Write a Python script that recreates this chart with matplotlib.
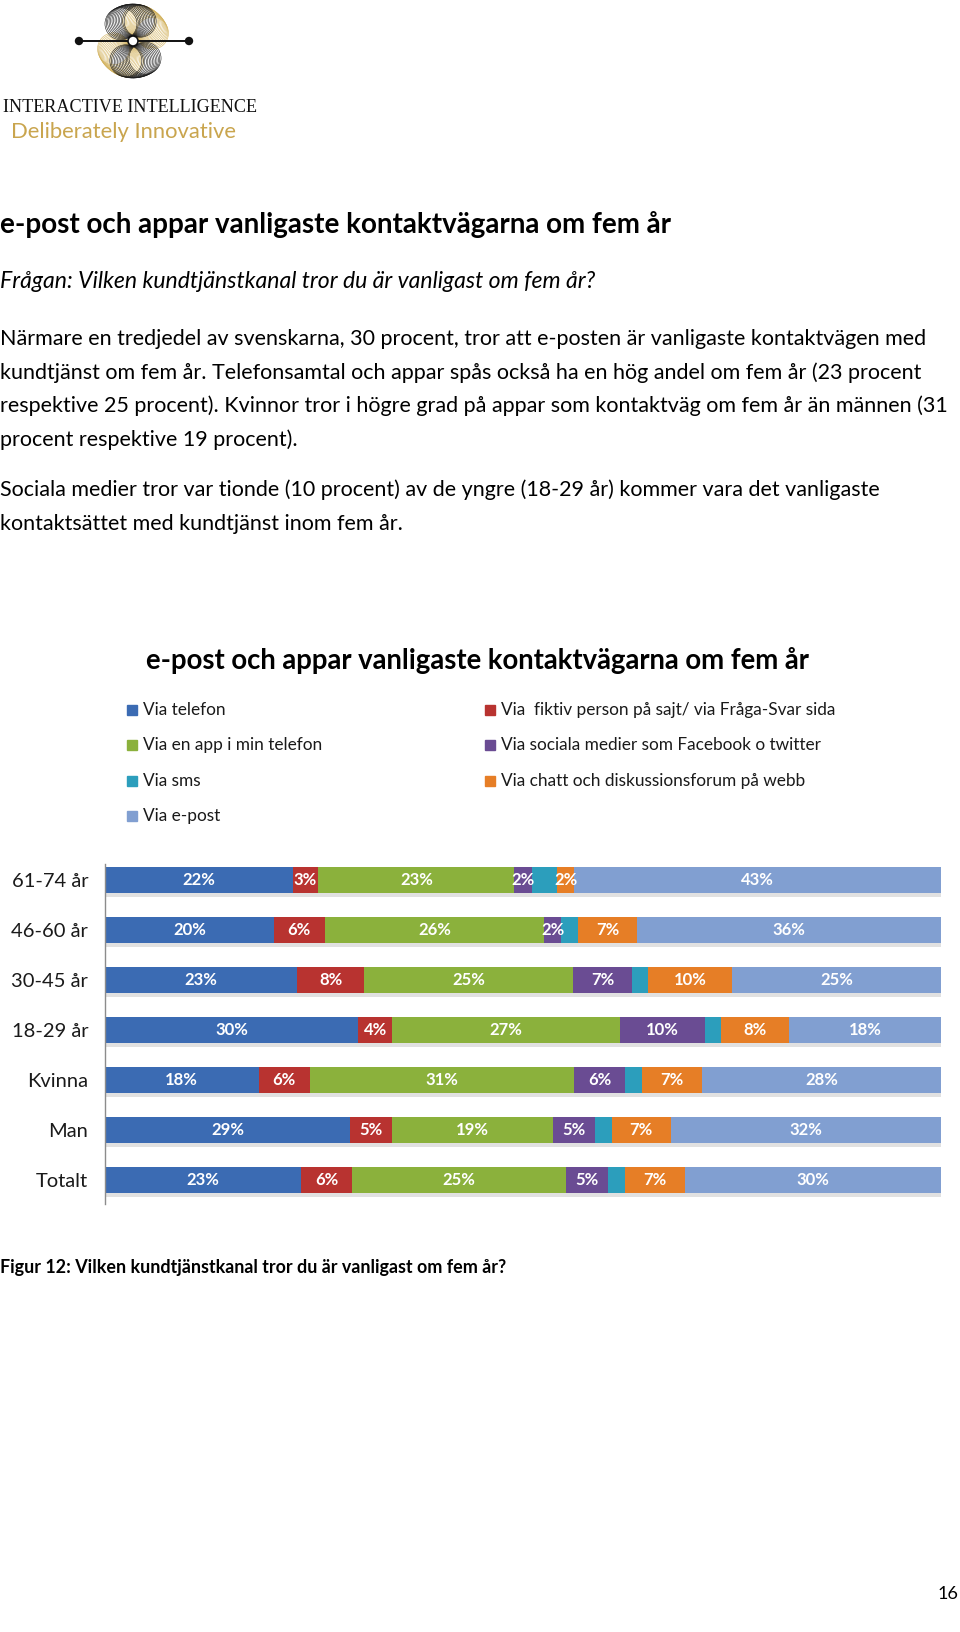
import numpy as np
import matplotlib.pyplot as plt
from matplotlib.patches import Circle, Rectangle

# chart data (percent per group)
groups = ['61-74 år', '46-60 år', '30-45 år', '18-29 år', 'Kvinna', 'Man', 'Totalt']
series = ['Via telefon', 'Via  fiktiv person på sajt/ via Fråga-Svar sida',
          'Via en app i min telefon', 'Via sociala medier som Facebook o twitter',
          'Via sms', 'Via chatt och diskussionsforum på webb', 'Via e-post']
telefon = [22, 20, 23, 30, 18, 29, 23]
fiktiv = [3, 6, 8, 4, 6, 5, 6]
app = [23, 26, 25, 27, 31, 19, 25]
sociala = [2, 2, 7, 10, 6, 5, 5]
sms = [3, 2, 2, 2, 2, 2, 2]
chatt = [2, 7, 10, 8, 7, 7, 7]
epost = [43, 36, 25, 18, 28, 32, 30]
show_label = [True, True, True, True, False, True, True]

colors = ['#3B6BB3', '#B83330', '#8BB13C', '#6A4C93', '#2C9EBC', '#E67E26', '#819FD1']

title = 'e-post och appar vanligaste kontaktvägarna om fem år'
question = 'Frågan: Vilken kundtjänstkanal tror du är vanligast om fem år?'
para1 = ['Närmare en tredjedel av svenskarna, 30 procent, tror att e-posten är vanligaste kontaktvägen med',
         'kundtjänst om fem år. Telefonsamtal och appar spås också ha en hög andel om fem år (23 procent',
         'respektive 25 procent). Kvinnor tror i högre grad på appar som kontaktväg om fem år än männen (31',
         'procent respektive 19 procent).']
para2 = ['Sociala medier tror var tionde (10 procent) av de yngre (18-29 år) kommer vara det vanligaste',
         'kontaktsättet med kundtjänst inom fem år.']
caption = 'Figur 12: Vilken kundtjänstkanal tror du är vanligast om fem år?'

W, H = 960, 1632
plt.rcParams['font.family'] = ['Lato', 'DejaVu Sans']
fig = plt.figure(figsize=(W / 100, H / 100), dpi=100)
fig.patch.set_facecolor('white')


def X(px):
    return px / W


def Y(px):
    return 1 - px / H


def fit(t, width):
    r = fig.canvas.get_renderer()
    w = t.get_window_extent(r).width
    t.set_fontsize(t.get_fontsize() * width / w)


# ---- logo
lg = fig.add_axes([0, Y(150), X(270), 150 / H])
lg.set_xlim(0, 270)
lg.set_ylim(150, 0)
lg.set_aspect('equal')
lg.axis('off')
cx, cy = 133, 41
for a0, a1, col in [(22, 75, '#D4B461'), (202, 255, '#D4B461'),
                    (70, 125, '#1a1a1a'), (250, 305, '#1a1a1a')]:
    for t in np.radians(np.linspace(a0, a1, 14)):
        lg.add_patch(Circle((cx + 21 * np.cos(t), cy - 21 * np.sin(t)), 16,
                            fill=False, lw=0.4, ec=col))
lg.plot([79, 189], [cy, cy], color='#111111', lw=1.4)
lg.add_patch(Circle((79, cy), 3.5, color='#111111'))
lg.add_patch(Circle((189, cy), 3.5, color='#111111'))
lg.add_patch(Circle((cx, cy), 5, fc='white', ec='#111111', lw=1.2, zorder=5))

t = fig.text(X(3), Y(108), 'INTERACTIVE INTELLIGENCE', family='Liberation Serif',
             fontsize=14, va='center', color='#111111')
fit(t, 257)
t = fig.text(X(11), Y(132), 'Deliberately Innovative', fontsize=14, va='center',
             color='#C9A54E')
fit(t, 226)

# ---- text block
t = fig.text(X(0), Y(224), title, fontsize=17, fontweight='bold', va='center')
fit(t, 672)
t = fig.text(X(0), Y(282), question, fontsize=13, style='italic', va='center')
fit(t, 595)

body = []
for i, line in enumerate(para1):
    body.append(fig.text(X(0), Y(339 + 33.5 * i), line, fontsize=14, va='center'))
for i, line in enumerate(para2):
    body.append(fig.text(X(0), Y(490 + 34 * i), line, fontsize=14, va='center'))
sizes = []
for b, target in zip(body[:3], [955, 953, 950]):
    fit(b, target)
    sizes.append(b.get_fontsize())
for b in body:
    b.set_fontsize(min(sizes))

# ---- chart title and legend
t = fig.text(X(146), Y(661), title, fontsize=17, fontweight='bold', va='center')
fit(t, 668)

legend_pos = [(127, 710), (485, 710), (127, 745), (485, 745), (127, 781), (485, 781), (127, 816)]
for k, (name, col) in enumerate(zip(series, colors)):
    lx, ly = legend_pos[k]
    fig.patches.append(Rectangle((X(lx), Y(ly + 5)), X(10), 10 / H, color=col,
                                 transform=fig.transFigure, figure=fig))
    lt = fig.text(X(lx + 16), Y(ly), name, fontsize=11.5, va='center', color='#1a1a1a')
    if k == 1:
        fit(lt, 337)
        leg_fs = lt.get_fontsize()
for tx in fig.texts[-7:]:
    tx.set_fontsize(leg_fs)

# ---- stacked 100% bars
ax = fig.add_axes([X(105), Y(1204), X(941 - 105), (1204 - 864) / H])
data = np.array([telefon, fiktiv, app, sociala, sms, chatt, epost], dtype=float)
share = data / data.sum(axis=0)
ypos = np.arange(len(groups))[::-1]
left = np.zeros(len(groups))
for s in range(len(series)):
    ax.barh(ypos - 0.07, share[s], left=left, height=0.52, color='#888888',
            alpha=0.25, lw=0, zorder=1)
    ax.barh(ypos, share[s], left=left, height=0.52, color=colors[s], lw=0, zorder=2)
    if show_label[s]:
        for g in range(len(groups)):
            ax.text(left[g] + share[s][g] / 2, ypos[g], f'{int(data[s][g])}%',
                    ha='center', va='center', color='white', fontsize=12,
                    fontweight='bold', zorder=3)
    left += share[s]

ax.set_xlim(0, 1)
ax.set_ylim(-0.48, 6.32)
ax.set_yticks(ypos)
ax.set_yticklabels(groups, fontsize=14.5, color='#1a1a1a')
ax.tick_params(axis='y', length=0, pad=12)
ax.set_xticks([])
for side in ['top', 'right', 'bottom']:
    ax.spines[side].set_visible(False)
ax.spines['left'].set_color('#8c8c8c')
ax.spines['left'].set_linewidth(1.0)

# ---- caption and page number
t = fig.text(X(0), Y(1268), caption, fontsize=11, fontweight='bold', va='center')
fit(t, 505)
fig.text(X(958), Y(1594), '16', fontsize=13, ha='right', va='center')

fig.savefig('out.png', dpi=100, facecolor='white')
